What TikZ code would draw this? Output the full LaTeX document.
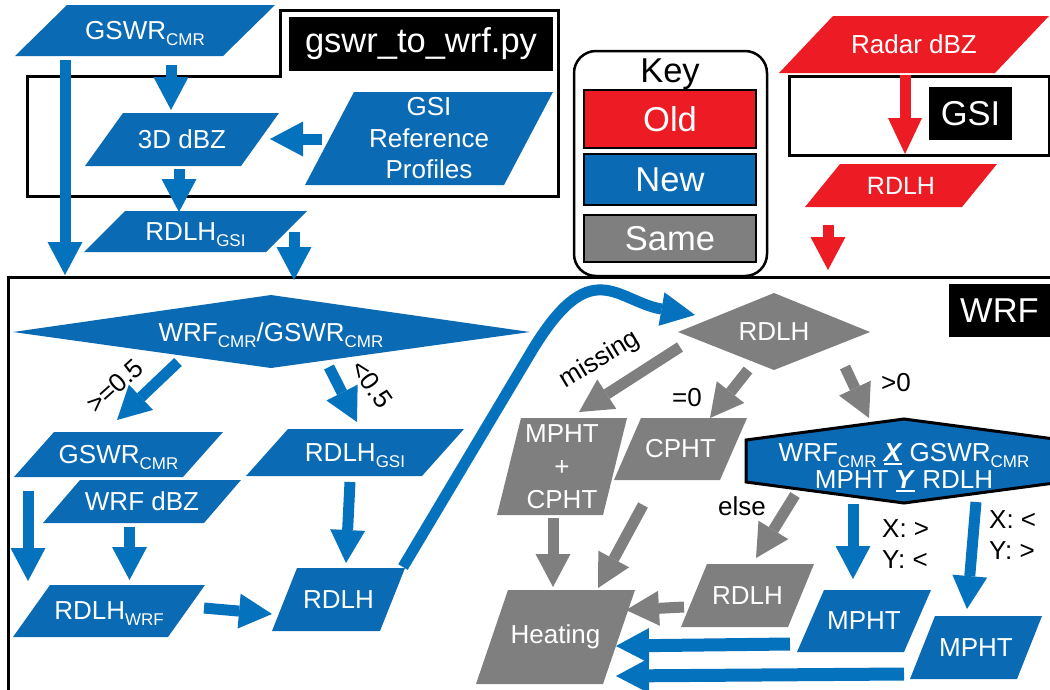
\documentclass[tikz,border=0pt]{standalone}
\usepackage{fontspec}
\setmainfont{Liberation Sans}
\usetikzlibrary{arrows.meta}
\definecolor{cblue}{RGB}{11,106,180}
\definecolor{ablue}{RGB}{5,114,190}
\definecolor{cred}{RGB}{237,28,36}
\definecolor{cgray}{RGB}{127,127,127}
\newcommand\sbs[1]{\raisebox{-6pt}[0pt][0pt]{\fontsize{17}{17}\selectfont #1}}
\newcommand\uln[1]{\setbox0\hbox{#1}\rlap{\smash{\rule[-4pt]{\wd0}{2.5pt}}}\box0\relax}
% optional node style, name, bottom-left x, bottom y, width, height, slant, colour, text
\newcommand\plg[9][]{%
  \fill[#8] (#3,#4) -- ({#3+#5},#4) -- ({#3+#5+#7},{#4-#6}) -- ({#3+#7},{#4-#6}) -- cycle;
  \node[lbl,#1] (#2) at ({#3+#5/2+#7/2},{#4-#6/2}) {#9};}
% style, name, x1, y1, x2, y2
\newcommand\arr[6]{%
  \coordinate (#2s) at (#3,#4); \coordinate (#2e) at (#5,#6);
  \draw[#1] (#2s) -- (#2e);}
\tikzset{
  lbl/.style={text=white,font=\fontsize{26}{31}\selectfont,align=center,inner sep=0pt},
  note/.style={text=black,font=\fontsize{26}{31}\selectfont,align=left,inner sep=0pt},
  tag/.style={fill=black,text=white,font=\fontsize{34.5}{40}\selectfont,inner sep=0pt},
  keybox/.style={draw=black,line width=2.5pt,text=white,font=\fontsize{34.5}{40}\selectfont,inner sep=0pt,minimum width=172pt},
  frame/.style={draw=black,line width=3pt},
  barrow/.style={line width=11pt,-{Triangle[length=33pt,width=35pt,line width=0pt]}},
}
\begin{document}
\begin{tikzpicture}[x=1pt,y=-1pt]
\useasboundingbox (0,0) rectangle (1050,689);
\clip (0,0) rectangle (1050,689);
% ---------- top left: gswr_to_wrf.py ----------
\plg{gswrA}{15}{56}{208}{51}{52}{cblue}{GSWR\sbs{CMR}}
\plg{dbz}{85}{166}{156}{53}{38}{cblue}{3D dBZ}
\plg[font=\fontsize{26}{31.5}\selectfont]{gsiref}{305}{185}{199}{93}{49}{cblue}{GSI\\Reference\\Profiles}
\plg{rgsiA}{84}{252}{182}{41}{41}{cblue}{RDLH\sbs{GSI}}
% ---------- top right: GSI ----------
\plg{radar}{779}{73}{216}{57}{54}{cred}{Radar dBZ}
\plg[font=\fontsize{25}{30}\selectfont]{rdlhR}{805}{207}{157}{43}{35}{cred}{RDLH}
% ---------- WRF part ----------
\fill[cblue] (13,332) -- (271,295) -- (530,332) -- (271,368) -- cycle;
\node[lbl] (ratio) at (271,332) {WRF\sbs{CMR}/GSWR\sbs{CMR}};
\plg{gswrB}{14}{477}{169}{45}{40}{cblue}{GSWR\sbs{CMR}}
\plg{wdbz}{43}{523}{161}{43}{37}{cblue}{WRF dBZ}
\plg{rwrf}{13}{637}{155}{52}{37}{cblue}{RDLH\sbs{WRF}}
\plg{rgsiB}{246}{476}{176}{47}{42}{cblue}{RDLH\sbs{GSI}}
\plg{rdlhB}{272}{631}{108}{63}{25}{cblue}{RDLH}
\fill[cgray] (678,332) -- (774,293) -- (870,332) -- (774,370) -- cycle;
\node[lbl] (rdia) at (774,332) {RDLH};
\plg[font=\fontsize{26}{33}\selectfont]{mpcp}{497}{515}{106}{97}{24}{cgray}{MPHT\\+\\CPHT}
\plg{cpht}{614}{480}{106}{62}{27}{cgray}{CPHT}
\plg{heat}{476}{684}{127}{94}{32}{cgray}{Heating}
\plg{rdlhG}{681}{627}{107}{63}{26}{cgray}{RDLH}
\plg{mpA}{797}{652}{107}{62}{27}{cblue}{MPHT}
\plg{mpB}{910}{679}{107}{63}{25}{cblue}{MPHT}
\filldraw[fill=cblue,draw=black,line width=3pt] (746,440) -- (904,419) -- (1062,440) -- (1062,482) -- (904,503) -- (746,482) -- cycle;
\node[lbl,font=\fontsize{26}{27}\selectfont] (cmp) at (904,465.5)
  {WRF\sbs{CMR} \uln{\textbf{\textit{X}}} GSWR\sbs{CMR}\\MPHT \uln{\textbf{\textit{Y}}} RDLH};
% ---------- frames and tags ----------
\draw[frame] (280,10) -- (558,10) -- (558,196) -- (27,196) -- (27,76) -- (280,76) -- cycle;
\draw[frame] (789,76) rectangle (1049,155);
\draw[frame] (1060,277) -- (8,277) -- (8,700);
\node[tag,minimum width=264pt,minimum height=54pt] (gswrtag) at (421,44) {gswr\_to\_wrf.py};
\node[tag,minimum width=83pt,minimum height=53pt] (gsitag) at (970.5,113.5) {GSI};
\node[tag,minimum width=101pt,minimum height=53pt] (wrftag) at (999.5,310.5) {WRF};
% ---------- key ----------
\node[draw=black,line width=2.5pt,rounded corners=22pt,minimum width=193pt,minimum height=225pt,inner sep=0pt] (key) at (670.5,163.5) {};
\node[text=black,font=\fontsize{34.5}{40}\selectfont,anchor=base,inner sep=0pt] (keyt) at (670,82) {Key};
\node[keybox,fill=cred,minimum height=58pt] (old) at (670,119) {Old};
\node[keybox,fill=cblue,minimum height=51pt] (new) at (670,179.5) {New};
\node[keybox,fill=cgray,minimum height=47pt] (same) at (670,238.5) {Same};
% ---------- arrows ----------
\arr{barrow,ablue}{a1}{65}{60}{65}{275}
\arr{barrow,ablue}{a2}{171}{65}{171}{110}
\arr{barrow,ablue}{a3}{322}{139}{270}{139}
\arr{barrow,ablue}{a4}{179}{169}{179}{212}
\arr{barrow,ablue}{a5}{294}{232}{294}{280}
\arr{barrow,ablue}{a6}{178}{362}{117}{420}
\arr{barrow,ablue}{a7}{329}{367}{357}{422}
\arr{barrow,ablue}{a8}{28}{491}{28}{581}
\arr{barrow,ablue}{a9}{129.5}{527}{129.5}{580}
\arr{barrow,ablue}{a10}{204}{608}{272}{614}
\arr{barrow,ablue}{a11}{350}{482}{346}{563}
\arr{barrow,ablue}{a13}{853}{504}{853}{579}
\arr{barrow,ablue}{a14}{976}{502}{967}{609}
\arr{barrow,ablue,line width=13pt}{a15}{790}{644}{616}{646}
\arr{barrow,ablue,line width=13pt}{a16}{904}{674}{616}{676}
\coordinate (cvs) at (403,567);
\coordinate (cve) at (695,315);
\draw[ablue,line width=11pt,-{Triangle[length=34pt,width=34pt,line width=0pt]}]
  (cvs) -- (530,354) .. controls (591,251) and (616,301) .. (cve);
\arr{barrow,cred,-{Triangle[length=36pt,width=34pt,line width=0pt]}}{r1}{905}{75}{905}{154}
\arr{barrow,cred}{r2}{828}{225}{828}{270}
\arr{barrow,cgray}{g1}{680}{347}{579}{412}
\arr{barrow,cgray}{g2}{748}{370}{710}{418}
\arr{barrow,cgray}{g3}{845}{367}{869}{418}
\arr{barrow,cgray}{g4}{795}{495}{756}{558}
\arr{barrow,cgray}{g5}{553}{518}{553}{587}
\arr{barrow,cgray}{g6}{643}{505}{598}{588}
\arr{barrow,cgray}{g7}{684}{607}{626}{610}
% ---------- labels ----------
\node[note,rotate=42] (ge) at (115,386) {>=0.5};
\node[note,rotate=-55] (lt) at (372,384) {<0.5};
\node[note,rotate=31] (miss) at (600,360) {missing};
\node[note] (eqz) at (687,398) {=0};
\node[note] (gtz) at (896,383) {>0};
\node[note] (els) at (742,506) {else};
\node[note,anchor=west] (xyA) at (882,544.5) {X: >\\Y: <};
\node[note,anchor=west] (xyB) at (989,535.5) {X: <\\Y: >};
\end{tikzpicture}
\end{document}
